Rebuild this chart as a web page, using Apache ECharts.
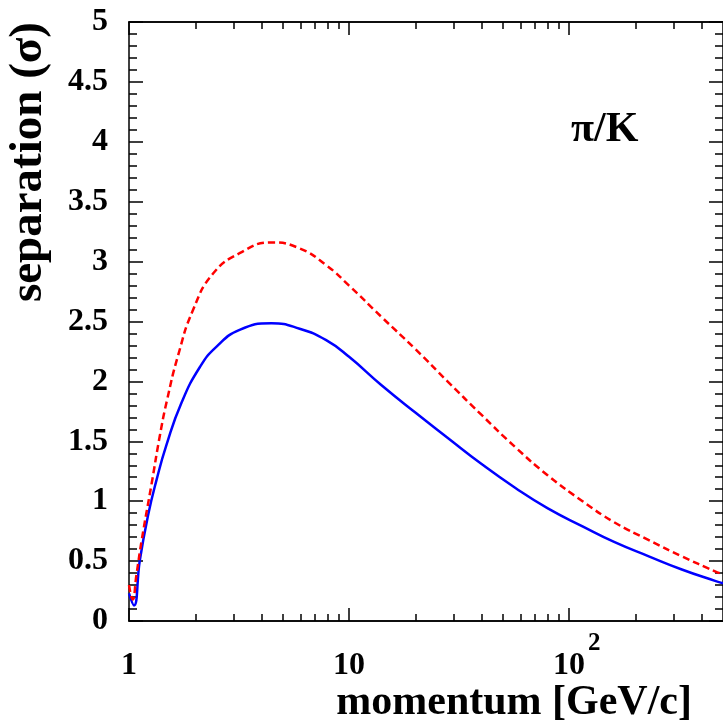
<!DOCTYPE html>
<html>
<head>
<meta charset="utf-8">
<script src="https://cdn.jsdelivr.net/npm/echarts@6/dist/echarts.min.js"></script>
<style>
  html, body { margin: 0; padding: 0; background: #fff; }
  #main { width: 723px; height: 728px; }
</style>
</head>
<body>
<div id="main"></div>
<script>
// blue solid curve: momentum [GeV/c] and separation
var momentumSolid = [1, 1.053, 1.12, 1.22, 1.335, 1.48, 1.73, 2.1, 2.5, 3.18, 4.44, 5.96, 7.87,
  10, 14, 20, 28, 40, 57, 80, 115, 160, 230, 325, 460, 500];
var sepSolid = [0.23, 0.13, 0.507, 0.88, 1.18, 1.47, 1.82, 2.12, 2.29, 2.43, 2.485, 2.44, 2.344,
  2.205, 1.97, 1.74, 1.53, 1.31, 1.11, 0.94, 0.79, 0.66, 0.54, 0.43, 0.335, 0.315];

// red dashed curve
var momentumDashed = [1, 1.039, 1.08, 1.142, 1.268, 1.382, 1.483, 1.673, 1.958, 2.41, 3.18, 4.44, 5.96, 7.87,
  10, 14, 20, 28, 40, 57, 80, 115, 160, 230, 325, 460, 500];
var sepDashed = [0.30, 0.18, 0.38, 0.674, 1.15, 1.55, 1.83, 2.22, 2.60, 2.90, 3.07, 3.16, 3.11, 2.97,
  2.80, 2.54, 2.27, 2.00, 1.72, 1.45, 1.215, 1.00, 0.825, 0.675, 0.54, 0.415, 0.39];

// axis ticks
var majorX = [1, 10, 100];
var minorX = [2, 3, 4, 5, 6, 7, 8, 9, 20, 30, 40, 50, 60, 70, 80, 90, 200, 300, 400];

function pairs(xs, ys) {
  return xs.map(function (x, i) { return [x, ys[i]]; });
}

var font = 'Liberation Serif';
var black = '#000';

function xAx(pos, ticks, len, labels) {
  return {
    type: 'log', logBase: 10, min: 1, max: 500, position: pos,
    axisLine: { show: true, onZero: false, lineStyle: { color: black, width: 1.5 } },
    axisTick: { show: true, inside: true, length: len, customValues: ticks, lineStyle: { color: black, width: 1.5 } },
    axisLabel: labels ? {
      show: true, customValues: majorX, margin: 11,
      formatter: function (v) {
        if (v >= 100) return '{p|10}{s|2}';
        return '{b|' + v + '}';
      },
      rich: {
        b: { fontFamily: font, fontWeight: 'bold', fontSize: 32, lineHeight: 68, color: black },
        p: { fontFamily: font, fontWeight: 'bold', fontSize: 32, lineHeight: 68, color: black, padding: [0, 0, 0, 15] },
        s: { fontFamily: font, fontWeight: 'bold', fontSize: 25, lineHeight: 24, color: black, padding: [0, 0, 44, 3] }
      }
    } : { show: false },
    splitLine: { show: false }
  };
}

function yAx(pos, labels) {
  return {
    type: 'value', min: 0, max: 5, interval: 0.5, position: pos,
    axisLine: { show: true, onZero: false, lineStyle: { color: black, width: 1.5 } },
    axisTick: { show: true, inside: true, length: 14, lineStyle: { color: black, width: 1.5 } },
    minorTick: { show: true, splitNumber: 5, length: 8, lineStyle: { color: black, width: 1.5 } },
    axisLabel: labels ? {
      show: true, margin: 21, color: black,
      fontFamily: font, fontWeight: 'bold', fontSize: 32,
      formatter: function (v) { return String(v); }
    } : { show: false },
    splitLine: { show: false }
  };
}

var chart = echarts.init(document.getElementById('main'));
chart.setOption({
  animation: false,
  backgroundColor: '#fff',
  grid: { left: 129, right: -1, top: 22, bottom: 107, containLabel: false },
  xAxis: [
    xAx('bottom', majorX, 13, true),
    xAx('bottom', minorX, 7, false),
    xAx('top', majorX, 13, false),
    xAx('top', minorX, 7, false)
  ],
  yAxis: [yAx('left', true), yAx('right', false)],
  series: [
    {
      type: 'line', xAxisIndex: 0, yAxisIndex: 0, data: pairs(momentumSolid, sepSolid),
      showSymbol: false, smooth: 0.5,
      lineStyle: { color: '#0000ff', width: 2.5 }
    },
    {
      type: 'line', xAxisIndex: 0, yAxisIndex: 0, data: pairs(momentumDashed, sepDashed),
      showSymbol: false, smooth: 0.5,
      lineStyle: { color: '#ff0000', width: 2.5, type: [7, 4] }
    }
  ],
  graphic: [
    {
      type: 'text', x: 52, y: 22, rotation: Math.PI / 2,
      style: { text: 'separation (σ)', fill: black, font: 'bold 47px "Liberation Serif"', textAlign: 'right', textVerticalAlign: 'bottom' }
    },
    {
      type: 'text', x: 692, y: 724,
      style: { text: 'momentum [GeV/c]', fill: black, font: 'bold 42px "Liberation Serif"', textAlign: 'right', textVerticalAlign: 'bottom' }
    },
    {
      type: 'text', x: 571, y: 151,
      style: { text: 'π/K', fill: black, font: 'bold 42px "Liberation Serif"', textAlign: 'left', textVerticalAlign: 'bottom' }
    }
  ]
});
</script>
</body>
</html>
